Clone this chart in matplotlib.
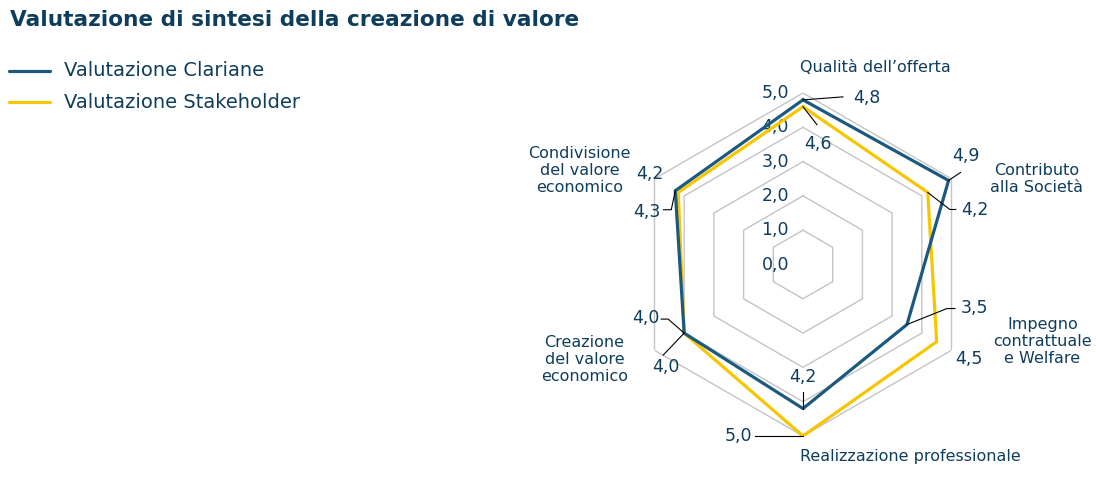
import numpy as np
import matplotlib
matplotlib.use("Agg")
import matplotlib.pyplot as plt
from matplotlib.lines import Line2D
from matplotlib.transforms import IdentityTransform

# ------------------------------------------------------------------ #
categories = ["Qualità dell’offerta", "Contributo\nalla Società", "Impegno\ncontrattuale\ne Welfare",
              "Realizzazione professionale", "Creazione\ndel valore\neconomico", "Condivisione\ndel valore\neconomico"]
clariane = [4.8, 4.9, 3.5, 4.2, 4.0, 4.3]
stakeholder = [4.6, 4.2, 4.5, 5.0, 4.0, 4.2]
r_ticks = [0, 1, 2, 3, 4, 5]
series_names = ["Valutazione Clariane", "Valutazione Stakeholder"]

BLUE = "#1b5a7e"
YELLOW = "#f7c600"
TEXT = "#0f3d5c"
GRID = "#c4c4c4"

plt.rcParams["font.family"] = ["DejaVu Sans"]

fig = plt.figure(figsize=(10.96, 4.8), dpi=100)
ax = fig.add_axes([631.5 / 1096, 44 / 480, 343 / 1096, 343 / 480], projection="polar")
ax.set_theta_offset(np.pi / 2)
ax.set_theta_direction(-1)
ax.set_ylim(0, 5)
ax.set_xticks([])
ax.set_yticks([])
ax.grid(False)
ax.spines["polar"].set_visible(False)
ax.patch.set_alpha(0)

theta = np.linspace(0, 2 * np.pi, len(categories), endpoint=False)
th_closed = np.append(theta, theta[0])

# hexagon grid
for k in r_ticks[1:]:
    ax.plot(th_closed, [k] * len(th_closed), color=GRID, lw=1, zorder=1)

ax.plot(th_closed, stakeholder + stakeholder[:1], color=YELLOW, lw=2.3, zorder=3)
ax.plot(th_closed, clariane + clariane[:1], color=BLUE, lw=2.3, zorder=4)

# radial tick labels
for k in r_ticks:
    ax.annotate("{:.1f}".format(k).replace(".", ","), xy=(0, k), xytext=(-14, 0),
                textcoords="offset pixels", ha="right", va="center", fontsize=12.5, color=TEXT, zorder=2)

# category labels
cat_offsets = [(72, 26), (85, 0), (91, 9), (107, -21), (-70, -9), (-75, 8)]
for i, lab in enumerate(categories):
    ax.annotate(lab, xy=(theta[i], 5), xytext=cat_offsets[i], textcoords="offset pixels",
                ha="center", va="center", multialignment="center", fontsize=11.5,
                color=TEXT, linespacing=1.15, annotation_clip=False)


def leader(i, r, pts):
    x0, y0 = ax.transData.transform((theta[i], r))
    xs = [x0] + [x0 + p[0] for p in pts]
    ys = [y0] + [y0 + p[1] for p in pts]
    fig.add_artist(Line2D(xs, ys, transform=IdentityTransform(), color="black", lw=0.8, zorder=5))


def value_label(i, r, off, ha="center", pts=None):
    ax.annotate("{:.1f}".format(r).replace(".", ","), xy=(theta[i], r), xytext=off,
                textcoords="offset pixels", ha=ha, va="center", fontsize=12.5, color=TEXT,
                annotation_clip=False)
    if pts:
        leader(i, r, pts)


# value labels (clariane)
value_label(0, clariane[0], (50, 2), "left", [(40, 3)])
value_label(1, clariane[1], (17, 24), "center", [(12, 8)])
value_label(2, clariane[2], (54, 17), "left", [(40, 16), (48, 16)])
value_label(3, clariane[3], (0, 32), "center", [(0, 17)])
value_label(4, clariane[4], (-25, 15), "right", [(-16, 14), (-23, 14)])
value_label(5, clariane[5], (-15, -21), "right", [(-4, -19), (-12, -19)])
# value labels (stakeholder)
value_label(0, stakeholder[0], (15, -37), "center", [(14, -18)])
value_label(1, stakeholder[1], (33, -18), "left", [(22, -17), (28, -17)])
value_label(2, stakeholder[2], (19, -17), "left")
value_label(3, stakeholder[3], (-51, 0), "right", [(-48, 0)])
value_label(4, stakeholder[4], (-18, -34), "center", [(-21, -22)])
value_label(5, stakeholder[5], (-28, 18), "center")

# title and legend
fig.text(10 / 1096, 1 - 20 / 480, "Valutazione di sintesi della creazione di valore", fontsize=15.6,
         fontweight="bold", color=TEXT, ha="left", va="center")
for j, (name, col) in enumerate(zip(series_names, [BLUE, YELLOW])):
    y = 1 - (71 + 31 * j) / 480
    fig.add_artist(Line2D([9 / 1096, 50 / 1096], [y, y], color=col, lw=2.3, solid_capstyle="round"))
    fig.text(64 / 1096, y, name, fontsize=14, color=TEXT, ha="left", va="center")

fig.savefig("out.png", dpi=100)
